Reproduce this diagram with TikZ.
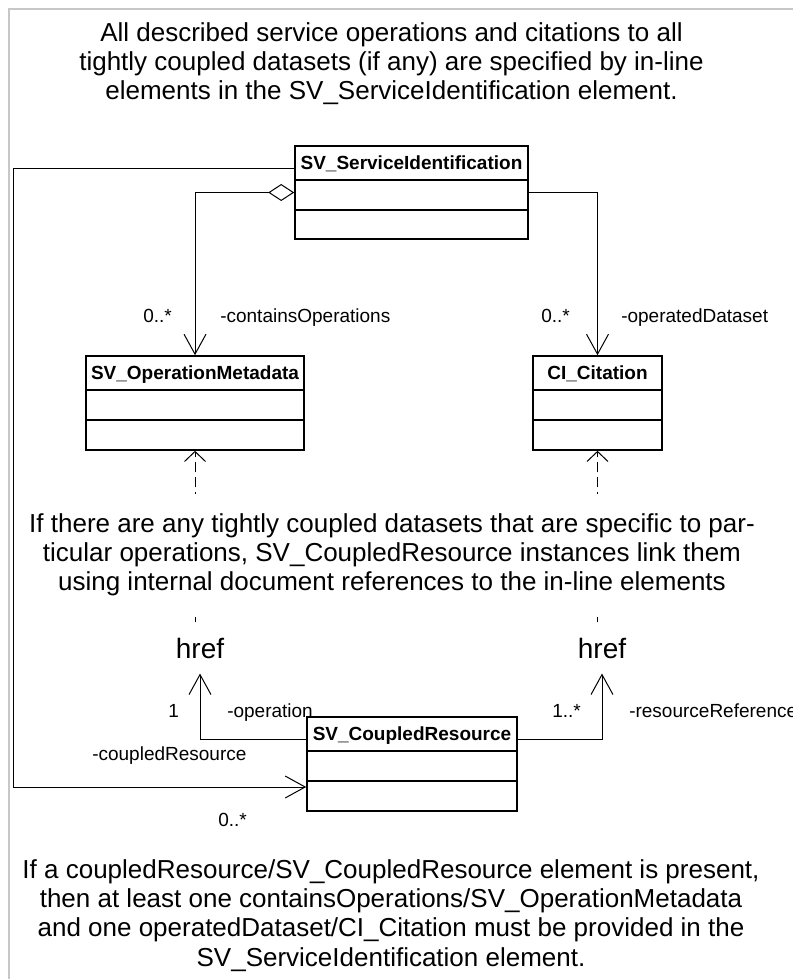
\documentclass[tikz,border=0pt]{standalone}
\usepackage{fontspec}
\setmainfont{Liberation Sans}
\usetikzlibrary{arrows.meta,fit}
\newcommand\umlclass[6]{% #1 name, #2 left, #3 top, #4 right, #5 bottom, #6 title
  \node[cls,fit={(#2,#3) (#4,#5)}] (#1) {};
  \draw[line width=1.2pt] (#2,#3+34) -- (#4,#3+34);
  \draw[line width=1.2pt] (#2,#3+64) -- (#4,#3+64);
  \node[clstitle] (#1-title) at ({(#2+#4)/2},#3+23) {#6};
}
\begin{document}
\begin{tikzpicture}[x=0.75pt,y=-0.75pt,
  cls/.style={draw,line width=1.2pt,inner sep=0pt},
  clstitle/.style={font=\fontsize{14.25pt}{17pt}\selectfont\bfseries,anchor=base,inner sep=0pt},
  lbl/.style={font=\fontsize{14.25pt}{17pt}\selectfont,anchor=base west,inner sep=0pt},
  note/.style={font=\fontsize{19.5pt}{22pt}\selectfont,anchor=base,inner sep=0pt},
  hreftext/.style={font=\fontsize{21pt}{25pt}\selectfont,inner xsep=2pt,inner ysep=11.25pt},
  assoc/.style={line width=0.75pt,-{Straight Barb[length=15pt,width=16.5pt]}},
  aggr/.style={line width=0.75pt,{Diamond[open,length=19.5pt,width=12.75pt]}-{Straight Barb[length=15pt,width=16.5pt]}},
  dep/.style={line width=0.75pt,dash pattern=on 7.5pt off 3.75pt,-{Straight Barb[length=7.5pt,width=15.75pt]}},
  frameline/.style={black!22,line width=1.1pt}
]
\useasboundingbox (0,0) rectangle (793,979);
\draw[frameline] (9,979) -- (9,9) -- (793,9);

% top note
\node[note] (topnote) at (391.5,41) {\begin{tabular}[t]{@{}c@{}}All described service operations and citations to all\\
tightly coupled datasets (if any) are specified by in-line\\
elements in the SV\_ServiceIdentification element.\end{tabular}};

% classes
\umlclass{svi}{295}{146}{528}{239}{SV\_ServiceIdentification}
\umlclass{om}{86}{356}{304}{450}{SV\_OperationMetadata}
\umlclass{ci}{533}{356}{662}{450}{CI\_Citation}
\umlclass{cr}{307}{717}{517}{811}{SV\_CoupledResource}

% href targets
\node[hreftext] (h1) at (200,648) {href};
\node[hreftext] (h2) at (602,648) {href};

\coordinate (lb) at (13,787);

% connectors
\draw[aggr] (svi.west) -| (om.north);
\draw[assoc] (svi.east) -| (ci.north);
\draw[assoc] ([yshift=-17.25pt]svi.north west) -| (lb) -- (cr.west |- lb);
\draw[dep] (h1.north -| om.south) -- (om.south);
\draw[dep] (h2.north -| ci.south) -- (ci.south);
\draw[assoc] ([yshift=-17.25pt]cr.north west) -| (h1.south);
\draw[assoc] ([yshift=-17.25pt]cr.north east) -| (h2.south);

% middle note (covers the dashed lines)
\node[note,fill=white,inner xsep=3pt,inner ysep=13pt] (midnote) at (392,532) {\begin{tabular}[t]{@{}c@{}}If there are any tightly coupled datasets that are specific to par-\\
ticular operations, SV\_CoupledResource instances link them\\
using internal document references to the in-line elements\end{tabular}};

% labels
\node[lbl] (m1) at (143,322) {0..*};
\node[lbl] (r1) at (220,322) {-containsOperations};
\node[lbl] (m2) at (541,322) {0..*};
\node[lbl] (r2) at (621,322) {-operatedDataset};
\node[lbl] (m3) at (168,717) {1};
\node[lbl] (r3) at (227,717) {-operation};
\node[lbl] (m4) at (552,717) {1..*};
\node[lbl] (r4) at (629,717) {-resourceReference};
\node[lbl] (r5) at (92,760) {-coupledResource};
\node[lbl] (m5) at (218,826) {0..*};

% bottom note
\node[note] (botnote) at (391,878) {\begin{tabular}[t]{@{}c@{}}If a coupledResource/SV\_CoupledResource element is present,\\
then at least one containsOperations/SV\_OperationMetadata\\
and one operatedDataset/CI\_Citation must be provided in the\\
SV\_ServiceIdentification element.\end{tabular}};
\end{tikzpicture}
\end{document}
